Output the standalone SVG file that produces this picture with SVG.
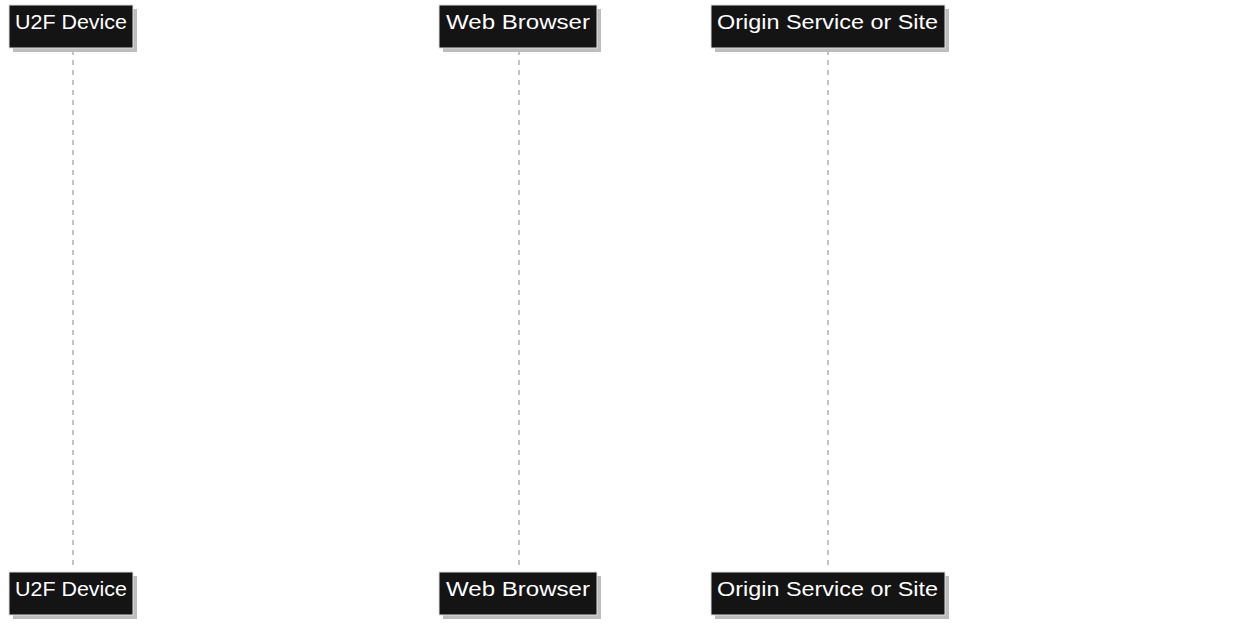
<svg xmlns="http://www.w3.org/2000/svg" width="1254" height="633" viewBox="0 0 1254 633">
<defs>
<style>
.box{fill:#141414;stroke:#e0e0e0;stroke-width:1}
.sh{fill:#bdbdbd}
.t{fill:#ffffff;font-family:"Liberation Sans",Arial,sans-serif;font-size:20px}
.life{stroke:#888888;stroke-width:1;stroke-dasharray:5,5;fill:none}
</style>
</defs>
<rect width="1254" height="633" fill="#ffffff"/>
<g id="lifelines">
<line class="life" x1="73" y1="50" x2="73" y2="570"/>
<line class="life" x1="519" y1="50" x2="519" y2="570"/>
<line class="life" x1="828" y1="50" x2="828" y2="570"/>
</g>
<g id="u2f-top">
<rect class="sh" x="13" y="9" width="124" height="43"/>
<rect class="box" x="9" y="5" width="124" height="43"/>
<text class="t" x="15" y="29" textLength="112" lengthAdjust="spacingAndGlyphs">U2F Device</text>
</g>
<g id="browser-top">
<rect class="sh" x="443" y="9" width="158" height="43"/>
<rect class="box" x="439" y="5" width="158" height="43"/>
<text class="t" x="446" y="29" textLength="144" lengthAdjust="spacingAndGlyphs">Web Browser</text>
</g>
<g id="origin-top">
<rect class="sh" x="715" y="9" width="234" height="43"/>
<rect class="box" x="711" y="5" width="234" height="43"/>
<text class="t" x="717" y="29" textLength="221" lengthAdjust="spacingAndGlyphs">Origin Service or Site</text>
</g>
<g id="u2f-bottom">
<rect class="sh" x="13" y="576" width="124" height="43"/>
<rect class="box" x="9" y="572" width="124" height="43"/>
<text class="t" x="15" y="596" textLength="112" lengthAdjust="spacingAndGlyphs">U2F Device</text>
</g>
<g id="browser-bottom">
<rect class="sh" x="443" y="576" width="158" height="43"/>
<rect class="box" x="439" y="572" width="158" height="43"/>
<text class="t" x="446" y="596" textLength="144" lengthAdjust="spacingAndGlyphs">Web Browser</text>
</g>
<g id="origin-bottom">
<rect class="sh" x="715" y="576" width="234" height="43"/>
<rect class="box" x="711" y="572" width="234" height="43"/>
<text class="t" x="717" y="596" textLength="221" lengthAdjust="spacingAndGlyphs">Origin Service or Site</text>
</g>
</svg>
